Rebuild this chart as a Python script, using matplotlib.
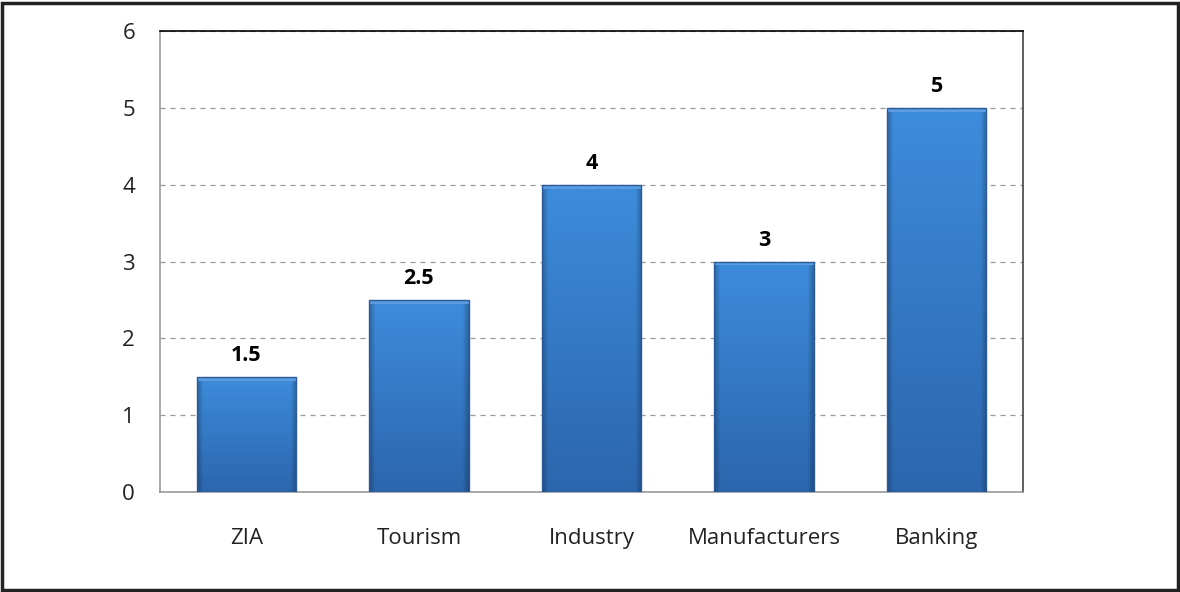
import matplotlib
matplotlib.use('Agg')
import matplotlib.pyplot as plt
import numpy as np
from matplotlib.patches import Rectangle

categories = ['ZIA', 'Tourism', 'Industry', 'Manufacturers', 'Banking']
values = [1.5, 2.5, 4, 3, 5]
value_labels = ['1.5', '2.5', '4', '3', '5']

plt.rcParams['font.family'] = ['Open Sans', 'DejaVu Sans']

fig = plt.figure(figsize=(11.8, 5.92), dpi=100)
ax = fig.add_axes([160/1180, 100/592, 863/1180, 461/592])

x = np.arange(len(categories))
width = 0.575

# plain bars first (for the axes limits), gradient painted on top
bars = ax.bar(x, values, width, color='#3a7fd0', zorder=2)

def bar_image(nh=200, nw=100):
    # vertical shading: light top, darker bottom
    t = np.linspace(0, 1, nh)[:, None]
    top = np.array([0.24, 0.55, 0.86])
    bot = np.array([0.17, 0.40, 0.68])
    img = top[None, None, :] * (1 - t[..., None]) + bot[None, None, :] * t[..., None]
    img = np.repeat(img, nw, axis=1)
    # darker side edges
    s = np.linspace(0, 1, nw)
    edge = np.clip(np.minimum(s, 1 - s) / 0.06, 0, 1)
    img = img * (0.75 + 0.25 * edge)[None, :, None]
    return np.clip(img, 0, 1)

img = bar_image()
for b in bars:
    x0, y0 = b.get_x(), b.get_y()
    w, h = b.get_width(), b.get_height()
    im = ax.imshow(img, extent=[x0, x0 + w, y0, y0 + h], aspect='auto',
                   zorder=3, interpolation='bilinear')
    im.set_clip_path(b)
    b.set_facecolor('none')
    # light bevel on top
    ax.add_patch(Rectangle((x0, y0 + h - 0.05), w, 0.05, color='#5b9be0',
                           zorder=4, lw=0))
    ax.add_patch(Rectangle((x0, y0), w, h, fill=False, ec='#2a5a98',
                           lw=1, zorder=5))

for xi, v, lab in zip(x, values, value_labels):
    ax.text(xi, v + 0.14, lab, ha='center', va='bottom', fontsize=15.5,
            fontweight='bold', color='black')

ax.set_xlim(-0.5, len(categories) - 0.5)
ax.set_ylim(0, 6)
ax.set_yticks(range(0, 7))
ax.set_xticks(x)
ax.set_xticklabels(categories)
ax.tick_params(axis='both', length=0, labelsize=16, colors='#222222')
ax.tick_params(axis='x', pad=26)
ax.tick_params(axis='y', pad=18)
ax.yaxis.grid(True, linestyle=(0, (4, 4)), color='#999999', lw=0.9, zorder=1)
ax.set_axisbelow(True)

ax.spines['top'].set_color('black')
ax.spines['right'].set_color('#444444')
ax.spines['left'].set_color('#999999')
ax.spines['bottom'].set_color('#999999')
for sp in ax.spines.values():
    sp.set_linewidth(1.2)

# outer frame around the whole chart
fig.patches.append(Rectangle((0.002, 0.003), 0.996, 0.992, transform=fig.transFigure,
                             fill=False, ec='#222222', lw=2.5))

fig.savefig('out.png', dpi=100)
